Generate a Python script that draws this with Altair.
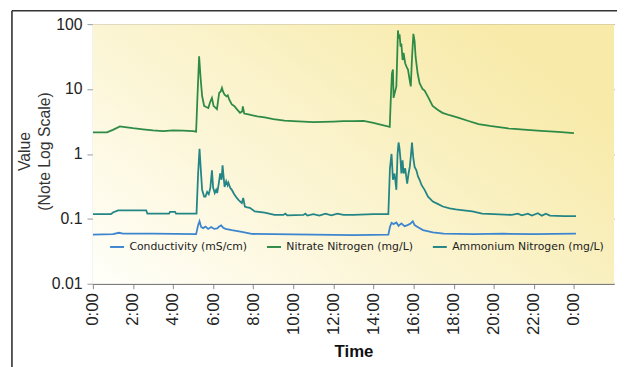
import altair as alt
import pandas as pd

# ---------------- data ----------------
series_names = ["Conductivity (mS/cm)", "Nitrate Nitrogen (mg/L)", "Ammonium Nitrogen (mg/L)"]
series_colors = ["#3d85cf", "#2e8a47", "#238585"]

nitrate_hours = [0.0, 0.7, 1.0, 1.35, 1.6, 2.0, 2.5, 3.0, 3.5, 4.0, 4.5, 5.0, 5.15, 5.22, 5.3, 5.38,
                 5.45, 5.55, 5.65, 5.76, 5.85, 5.94, 6.02, 6.1, 6.19, 6.3, 6.38, 6.44, 6.5, 6.57,
                 6.67, 6.73, 6.8, 6.93, 7.05, 7.18, 7.34, 7.45, 7.48, 7.55, 7.7, 7.92, 8.2, 8.57,
                 9.0, 9.56, 10.0, 10.5, 11.0, 11.5, 12.0, 12.5, 13.0, 13.5, 14.0, 14.4, 14.81,
                 14.87, 14.92, 14.97, 15.0, 15.07, 15.14, 15.22, 15.26, 15.3, 15.35, 15.39, 15.45,
                 15.5, 15.58, 15.65, 15.72, 15.8, 15.86, 15.92, 15.99, 16.05, 16.1, 16.2, 16.3,
                 16.45, 16.55, 16.7, 16.95, 17.2, 17.44, 17.8, 18.26, 18.7, 19.24, 19.8, 20.72,
                 21.5, 22.36, 23.2, 24.0]
nitrate_values = [2.15, 2.15, 2.35, 2.65, 2.6, 2.5, 2.4, 2.3, 2.25, 2.3, 2.28, 2.25, 2.2, 8.0, 32.0, 14.0,
                  7.8, 5.5, 5.3, 5.1, 6.3, 7.3, 5.5, 5.2, 4.9, 8.7, 9.2, 10.4, 9.0, 8.2,
                  7.7, 8.0, 6.9, 5.8, 5.5, 4.9, 4.3, 4.5, 5.4, 4.2, 4.1, 3.95, 3.8, 3.65,
                  3.45, 3.25, 3.2, 3.15, 3.1, 3.12, 3.15, 3.2, 3.2, 3.22, 3.0, 2.8, 2.62,
                  8.0, 17.5, 20.0, 7.3, 9.0, 11.0, 80.0, 60.0, 70.0, 45.0, 50.0, 28.0,
                  36.0, 25.0, 22.0, 20.0, 14.0, 11.0, 30.0, 71.0, 55.0, 31.5, 17.5, 12.3,
                  10.0, 9.5, 7.8, 5.5, 4.8, 4.3, 3.95, 3.6, 3.25, 2.88, 2.7, 2.47,
                  2.37, 2.27, 2.18, 2.1]

ammonium_hours = [0.0, 0.9, 1.0, 1.26, 2.0, 2.66, 2.72, 3.8, 3.85, 4.1, 4.15, 5.17, 5.25, 5.32, 5.38,
                  5.45, 5.55, 5.62, 5.7, 5.78, 5.86, 5.94, 6.0, 6.08, 6.15, 6.2, 6.28, 6.35, 6.42,
                  6.47, 6.52, 6.57, 6.65, 6.72, 6.76, 6.85, 6.93, 7.05, 7.18, 7.3, 7.43, 7.5, 7.58,
                  7.7, 7.83, 8.08, 8.57, 9.06, 9.5, 9.6, 9.7, 10.5, 10.6, 10.7, 11.0, 11.3, 11.6,
                  11.9, 12.2, 12.5, 13.0, 14.0, 14.74, 14.82, 14.9, 14.97, 15.05, 15.14, 15.2,
                  15.25, 15.3, 15.35, 15.39, 15.45, 15.5, 15.58, 15.68, 15.75, 15.81, 15.86,
                  15.92, 15.98, 16.05, 16.14, 16.22, 16.3, 16.4, 16.55, 16.72, 16.96, 17.2,
                  17.46, 17.8, 18.1, 18.5, 18.93, 19.42, 20.0, 20.9, 21.2, 21.4, 21.7, 21.9,
                  22.2, 22.4, 22.6, 22.8, 23.5, 24.1]
ammonium_values = [0.118, 0.118, 0.125, 0.135, 0.135, 0.135, 0.12, 0.12, 0.128, 0.128, 0.12, 0.12, 0.5, 1.2, 0.6,
                   0.28, 0.22, 0.22, 0.26, 0.24, 0.3, 0.56, 0.3, 0.25, 0.28, 0.25, 0.35, 0.5, 0.4,
                   0.67, 0.45, 0.31, 0.38, 0.33, 0.36, 0.3, 0.28, 0.24, 0.21, 0.19, 0.175, 0.21, 0.155,
                   0.15, 0.148, 0.13, 0.125, 0.115, 0.115, 0.12, 0.113, 0.115, 0.12, 0.112, 0.118, 0.112, 0.12,
                   0.113, 0.12, 0.115, 0.115, 0.118, 0.118, 0.6, 1.0, 0.4, 0.5, 0.28, 1.0,
                   1.5, 1.2, 0.8, 0.5, 0.8, 0.5, 0.6, 0.35, 0.5, 0.63, 0.9,
                   1.5, 0.9, 0.63, 0.56, 0.45, 0.4, 0.33, 0.28, 0.22, 0.185, 0.17,
                   0.155, 0.145, 0.14, 0.135, 0.13, 0.12, 0.118, 0.115, 0.12, 0.113, 0.12, 0.112,
                   0.122, 0.112, 0.12, 0.112, 0.11, 0.11]

conductivity_hours = [0.0, 1.0, 1.3, 1.5, 3.0, 5.15, 5.25, 5.32, 5.4, 5.5, 5.62, 5.75, 5.9, 6.05, 6.2,
                      6.3, 6.4, 6.5, 6.62, 6.93, 7.43, 7.92, 9.0, 11.0, 13.0, 14.74, 14.82, 14.9, 15.0,
                      15.14, 15.25, 15.39, 15.55, 15.7, 15.85, 15.96, 16.05, 16.2, 16.47, 16.96, 17.5,
                      19.0, 20.5, 22.0, 23.0, 24.1]
conductivity_values = [0.057, 0.058, 0.061, 0.059, 0.059, 0.058, 0.08, 0.092, 0.075, 0.072, 0.076, 0.07, 0.075, 0.07, 0.071,
                       0.076, 0.079, 0.073, 0.07, 0.067, 0.063, 0.0585, 0.058, 0.057, 0.056, 0.057, 0.075, 0.087, 0.083,
                       0.088, 0.078, 0.085, 0.077, 0.08, 0.085, 0.092, 0.08, 0.075, 0.067, 0.062, 0.059,
                       0.058, 0.059, 0.058, 0.0585, 0.059]

x_tick_hours = [0, 2, 4, 6, 8, 10, 12, 14, 16, 18, 20, 22, 24]
y_tick_values = [0.01, 0.1, 1, 10, 100]

# ---------------- layout ----------------
W, H = 528, 263

frames = []
for name, hrs, vals in [
    (series_names[0], conductivity_hours, conductivity_values),
    (series_names[1], nitrate_hours, nitrate_values),
    (series_names[2], ammonium_hours, ammonium_values),
]:
    frames.append(pd.DataFrame({"series": name, "hour": hrs, "value": vals}))
df = pd.concat(frames, ignore_index=True)

one = pd.DataFrame({"a": [0]})

background = alt.Chart(one).mark_rect(
    fill=alt.Gradient(
        gradient="linear",
        stops=[
            alt.GradientStop(color="#fffffa", offset=0),
            alt.GradientStop(color="#fcf6d8", offset=0.4),
            alt.GradientStop(color="#f9efbc", offset=0.75),
            alt.GradientStop(color="#f8eaa8", offset=1),
        ],
        x1=0, y1=1, x2=1, y2=0.35,
    )
).encode(x=alt.value(0), x2=alt.value(W), y=alt.value(0), y2=alt.value(H))

frame_left = alt.Chart(one).mark_rule(color="#222222", strokeWidth=1.5).encode(
    x=alt.value(-82), y=alt.value(-13.5), y2=alt.value(H + 90)
)
frame_top = alt.Chart(one).mark_rule(color="#333333", strokeWidth=1.5).encode(
    x=alt.value(-82), x2=alt.value(W + 10), y=alt.value(-13.5)
)

lines = alt.Chart(df).mark_line(strokeWidth=1.8, clip=True).encode(
    x=alt.X(
        "hour:Q",
        scale=alt.Scale(domain=[0, 26], nice=False, zero=False),
        axis=alt.Axis(
            values=x_tick_hours,
            labelExpr="(datum.value % 24) + ':00'",
            labelAngle=-90,
            labelFont="Liberation Sans",
            labelFontSize=17,
            labelColor="#222222",
            labelPadding=4,
            tickSize=5,
            tickColor="#888888",
            domainColor="#6f6f6f",
            grid=False,
            title="Time",
            titleFont="Liberation Sans",
            titleFontSize=17,
            titleFontWeight="bold",
            titleColor="#111111",
            titleBaseline="top",
            titleY=61,
        ),
    ),
    y=alt.Y(
        "value:Q",
        scale=alt.Scale(type="log", domain=[0.01, 100], nice=False),
        axis=alt.Axis(
            values=y_tick_values,
            format="~g",
            labelFont="Liberation Sans",
            labelFontSize=16,
            labelColor="#222222",
            labelPadding=5,
            tickSize=6,
            tickColor="#999999",
            domainColor="#a0a0a0",
            grid=True,
            gridColor="#7a7a7a",
            gridWidth=1,
            title=["Value", "(Note Log Scale)"],
            titleFont="Liberation Sans",
            titleFontSize=16,
            titleFontWeight="normal",
            titleColor="#333333",
            titleAngle=-90,
            titleAlign="center",
            titleBaseline="middle",
            titleLineHeight=20,
            titleX=-69,
            titleY=H / 2 - 3,
        ),
    ),
    color=alt.Color(
        "series:N",
        scale=alt.Scale(domain=series_names, range=series_colors),
        legend=alt.Legend(
            title=None,
            orient="none",
            legendX=16,
            legendY=217,
            direction="horizontal",
            symbolType="stroke",
            symbolSize=200,
            symbolStrokeWidth=2,
            labelFont="DejaVu Sans",
            labelFontSize=11,
            labelColor="#222222",
            labelOffset=4,
            columnPadding=15,
            padding=0,
        ),
    ),
)

chart = alt.layer(frame_left, frame_top, background, lines).properties(
    width=W,
    height=H,
    autosize=alt.AutoSizeParams(type="none"),
    padding={"left": 86, "top": 14, "right": 3, "bottom": 82},
    background="#ffffff",
).configure_view(strokeWidth=0)

chart.save("out.html", embed_options={"renderer": "svg", "actions": False})
